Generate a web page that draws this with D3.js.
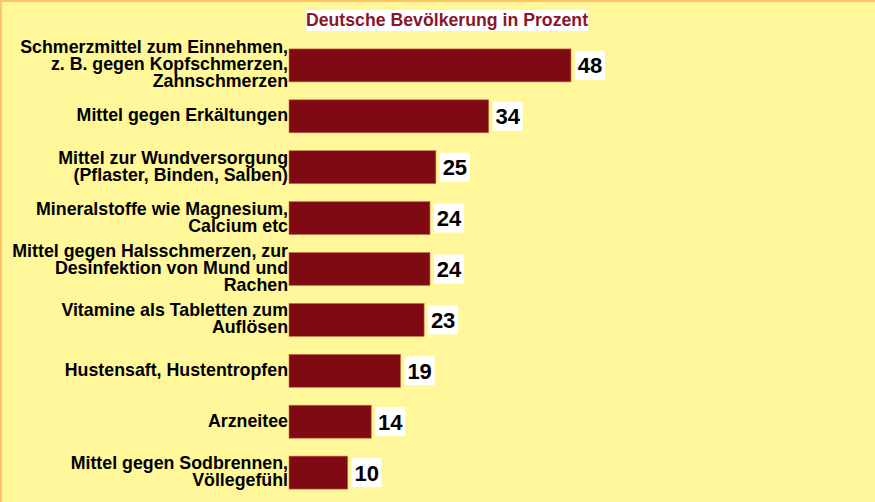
<!DOCTYPE html>
<html>
<head>
<meta charset="utf-8">
<script src="https://cdn.jsdelivr.net/npm/d3@7"></script>
<style>
  body { margin: 0; background: #fff799; }
  #chart svg { display: block; }
</style>
</head>
<body>
<div id="chart"></div>
<script>
const titel = 'Deutsche Bevölkerung in Prozent';

const kategorien = [
    ['Schmerzmittel zum Einnehmen,', 'z. B. gegen Kopfschmerzen,', 'Zahnschmerzen'],
    ['Mittel gegen Erkältungen'],
    ['Mittel zur Wundversorgung', '(Pflaster, Binden, Salben)'],
    ['Mineralstoffe wie Magnesium,', 'Calcium etc'],
    ['Mittel gegen Halsschmerzen, zur', 'Desinfektion von Mund und', 'Rachen'],
    ['Vitamine als Tabletten zum', 'Auflösen'],
    ['Hustensaft, Hustentropfen'],
    ['Arzneitee'],
    ['Mittel gegen Sodbrennen,', 'Völlegefühl']
];

const werte = [48, 34, 25, 24, 24, 23, 19, 14, 10];

const daten = werte.map((v, i) => ({ id: i, label: kategorien[i], value: v }));

const width = 875, height = 502;
const margin = { top: 40, left: 289, bottom: 4 };

let svg = d3.select('#chart')
            .append('svg')
                .attr('width', width)
                .attr('height', height)
                .style('font-family', '"Liberation Sans", Arial, sans-serif');

svg.append('rect')
    .attr('width', width)
    .attr('height', height)
    .attr('fill', '#fff799');

// Rahmen oben und links
svg.append('rect').attr('x', 0).attr('y', 0).attr('width', width).attr('height', 2).attr('fill', '#ffc46a');
svg.append('rect').attr('x', 0).attr('y', 0).attr('width', 2).attr('height', height).attr('fill', '#ffc46a');

let xScale = d3.scaleLinear()
               .domain([0, 48])
               .range([margin.left, 571]);

let yScale = d3.scaleBand()
               .domain(daten.map(d => d.id))
               .range([margin.top, height - margin.bottom])
               .paddingInner(0.352)
               .paddingOuter(0.175);

// Titel
let titelText = svg.append('text')
    .attr('x', 447)
    .attr('y', 26)
    .attr('text-anchor', 'middle')
    .attr('font-size', '17.7px')
    .attr('font-weight', 'bold')
    .attr('fill', '#8b1528')
    .text(titel);

let tb = titelText.node().getBBox();
svg.insert('rect', 'text')
    .attr('x', tb.x)
    .attr('y', 10)
    .attr('width', tb.width)
    .attr('height', 21)
    .attr('fill', '#ffffff');

// Balken
svg.selectAll('rect.bar')
    .data(daten)
    .enter()
    .append('rect')
        .attr('class', 'bar')
        .attr('x', xScale(0))
        .attr('y', d => yScale(d.id))
        .attr('width', d => xScale(d.value) - xScale(0))
        .attr('height', yScale.bandwidth())
        .attr('fill', '#800a14')
        .attr('stroke', '#c8784a')
        .attr('stroke-width', 0.6);

// Wertebeschriftung mit weißem Kasten
let wert = svg.selectAll('g.wert')
    .data(daten)
    .enter()
    .append('g')
        .attr('class', 'wert')
        .attr('transform', d => `translate(${xScale(d.value) + 4},${yScale(d.id) + yScale.bandwidth() / 2})`);

wert.append('rect')
    .attr('x', 0)
    .attr('y', -14.5)
    .attr('width', 30)
    .attr('height', 29)
    .attr('fill', '#ffffff');

wert.append('text')
    .attr('x', 15)
    .attr('y', 8)
    .attr('text-anchor', 'middle')
    .attr('font-size', '22px')
    .attr('font-weight', 'bold')
    .attr('fill', '#000')
    .text(d => d.value);

// Kategorien
const zeile = 17;
svg.selectAll('text.kat')
    .data(daten)
    .enter()
    .append('text')
        .attr('class', 'kat')
        .attr('text-anchor', 'end')
        .attr('font-size', '17.8px')
        .attr('font-weight', 'bold')
        .attr('fill', '#000')
        .each(function(d) {
            let n = d.label.length;
            let mitte = yScale(d.id) + yScale.bandwidth() / 2;
            let start = mitte - (n - 1) * zeile / 2 + 5;
            d3.select(this).selectAll('tspan')
                .data(d.label)
                .enter()
                .append('tspan')
                    .attr('x', 288)
                    .attr('y', (l, i) => start + i * zeile)
                    .text(l => l);
        });
</script>
</body>
</html>
